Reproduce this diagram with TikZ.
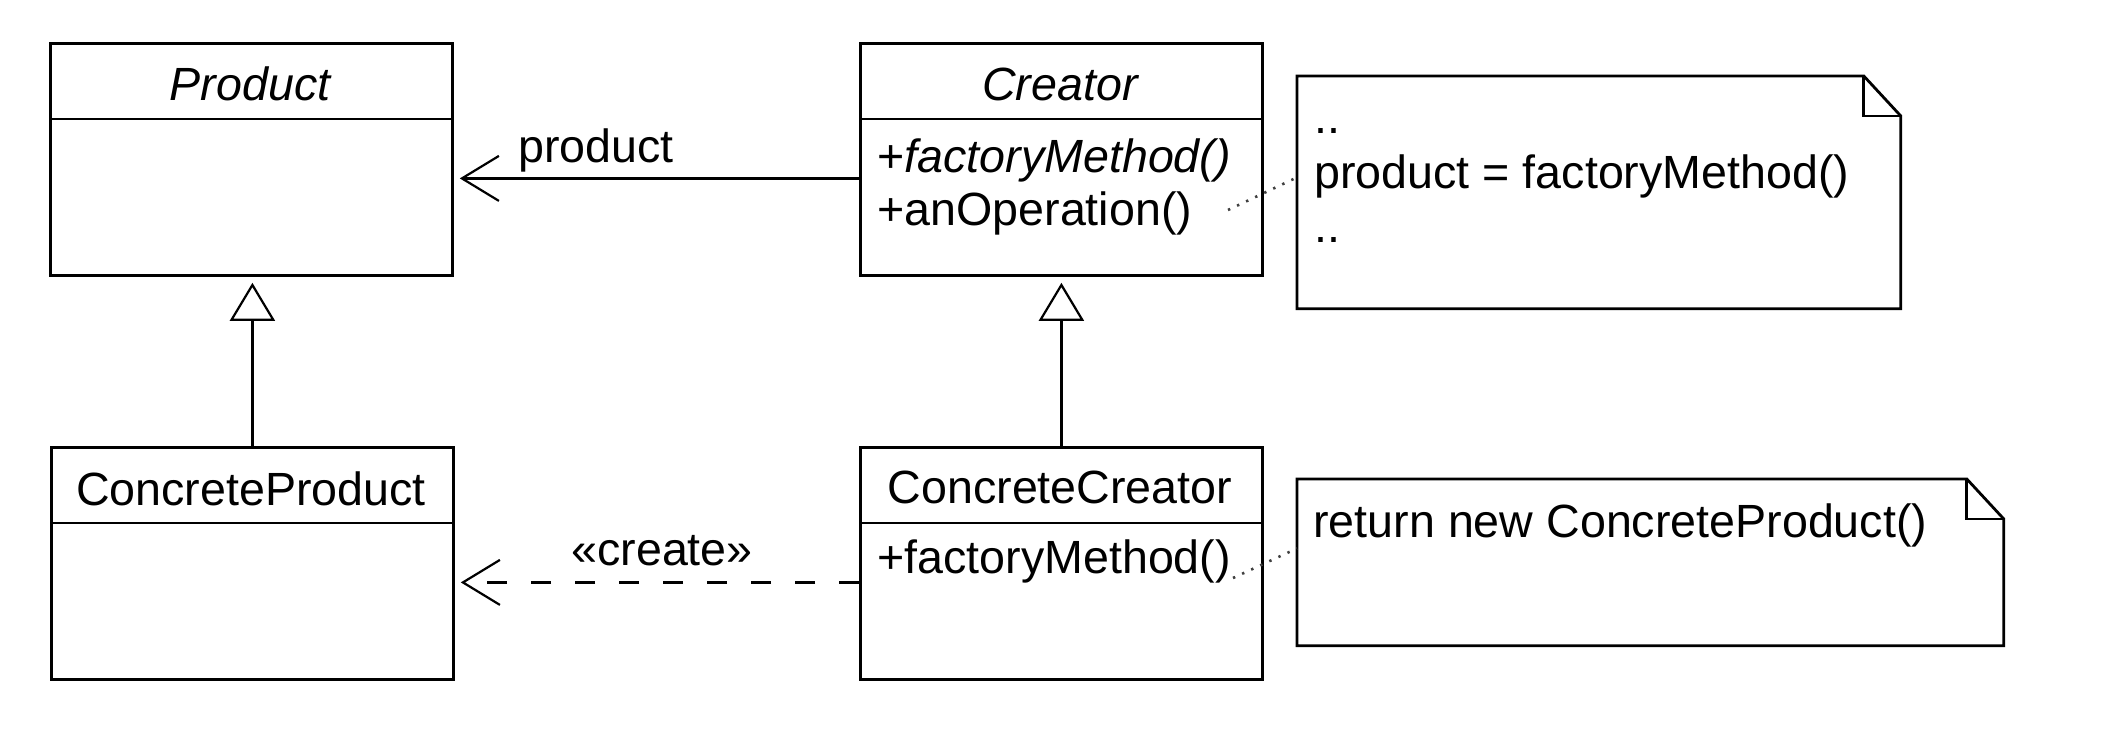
\documentclass[tikz,border=0pt]{standalone}
\usepackage{fontspec}
\setmainfont{Liberation Sans}
\usetikzlibrary{arrows.meta}
\newcommand\umlsize{\fontsize{23.3pt}{28pt}\selectfont}
\tikzset{
  classbox/.style={draw, line width=1.4pt, inner sep=0pt, anchor=north west,
    minimum width=201pt, minimum height=116pt},
  notearea/.style={inner sep=0pt, anchor=north west},
  noteline/.style={line width=1.4pt, line join=miter},
  txt/.style={inner sep=0pt, font=\umlsize},
  conn/.style={line width=1.1pt},
  gen/.style={conn, -{Triangle[open, length=19pt, width=22.5pt, line width=1.1pt]}, shorten >=3pt},
  assoc/.style={conn, -{Straight Barb[length=18.5pt, width=22.5pt, line width=1.1pt]}, shorten >=3pt},
  dep/.style={assoc, dash pattern=on 10pt off 12pt},
  anchorline/.style={line width=1.3pt, dash pattern=on 1.2pt off 3.8pt, black!75},
}
% draws the outline of a note with a folded top-right corner
\newcommand\notebox[1]{%
  \draw[noteline] (#1.north west) -- ([xshift=-18.5pt]#1.north east)
    -- ([yshift=-20pt]#1.north east) -- (#1.south east) -- (#1.south west) -- cycle;
  \draw[noteline] ([xshift=-18.5pt]#1.north east) -- ([xshift=-18.5pt,yshift=-20pt]#1.north east)
    -- ([yshift=-20pt]#1.north east);
}
\begin{document}
\begin{tikzpicture}[x=0.5pt,y=-0.5pt]
\useasboundingbox (0,0) rectangle (2114,730);

% class boxes
\node[classbox] (product) at (49,42) {};
\node[classbox] (creator) at (859,42) {};
\node[classbox] (cproduct) at (50,446) {};
\node[classbox] (ccreator) at (859,446) {};
\foreach \c in {product,creator,cproduct,ccreator}
  \draw[line width=1.4pt] ([yshift=-38.5pt]\c.north west) -- ([yshift=-38.5pt]\c.north east);

% class names and operations
\node[txt, anchor=base, font=\umlsize\itshape] (productT) at (250,100) {Product};
\node[txt, anchor=base, font=\umlsize\itshape] (creatorT) at (1060,100) {Creator};
\node[txt, anchor=base west] (factM) at (877,172) {+\textit{factoryMethod()}};
\node[txt, anchor=base west] (anOp) at (877,225) {+anOperation()};
\node[txt, anchor=base] (cproductT) at (251,505) {ConcreteProduct};
\node[txt, anchor=base] (ccreatorT) at (1060,503) {ConcreteCreator};
\node[txt, anchor=base west] (cfactM) at (877,573) {+factoryMethod()};

% notes
\node[notearea, minimum width=301.5pt, minimum height=116pt] (note1) at (1297,76) {};
\notebox{note1}
\node[txt, anchor=base west] (n1a) at (1314,133) {..};
\node[txt, anchor=base west] (n1b) at (1314,188) {product = factoryMethod()};
\node[txt, anchor=base west] (n1c) at (1314,242) {..};

\node[notearea, minimum width=353pt, minimum height=83pt] (note2) at (1297,479) {};
\notebox{note2}
\node[txt, anchor=base west] (n2a) at (1313,537) {return new ConcreteProduct()};

% generalizations
\draw[gen] (cproduct.north) -- (cproduct.north |- product.south);
\draw[gen] (ccreator.north) -- (ccreator.north |- creator.south);

% association and dependency
\draw[assoc] ([yshift=-9.5pt]creator.west) -- ([yshift=-9.5pt]product.east);
\node[txt, anchor=base west] (assocL) at (518,162) {product};
\draw[dep] ([yshift=-9.5pt]ccreator.west) -- ([yshift=-9.5pt]cproduct.east);
\node[txt, anchor=base west] (depL) at (571,565) {«create»};

% note anchors
\coordinate (anOpEnd) at (1228,210);
\coordinate (cfactEnd) at (1233,578);
\draw[anchorline] (anOpEnd) -- ([yshift=7.5pt]note1.west);
\draw[anchorline] (cfactEnd) -- ([yshift=7pt]note2.west);
\end{tikzpicture}
\end{document}
